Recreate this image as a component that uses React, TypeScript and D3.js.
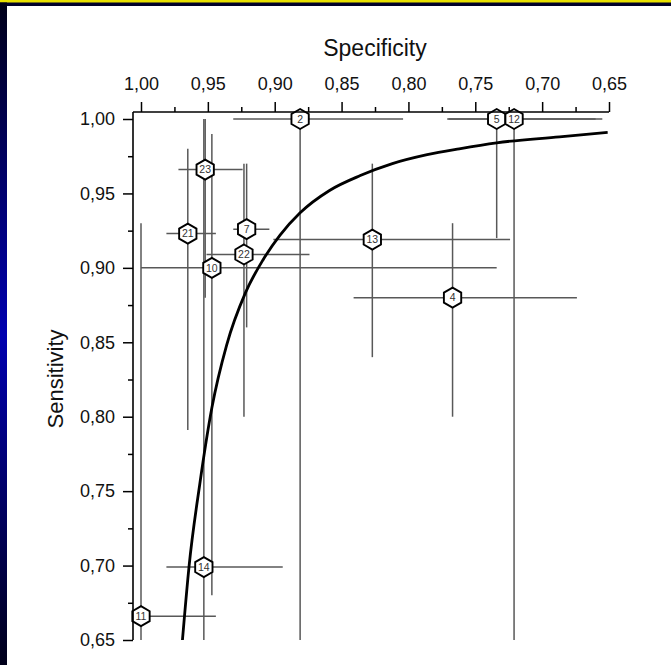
import React, { useRef, useEffect } from "react";
import * as d3 from "d3";

// study labels and point estimates
const studyIds = [2, 5, 12, 13, 4, 10, 23, 21, 7, 22, 14, 11];
const specificity = [0.881, 0.734, 0.721, 0.827, 0.767, 0.947, 0.952, 0.965, 0.921, 0.923, 0.953, 1.0];
const sensitivity = [1.0, 1.0, 1.0, 0.919, 0.88, 0.9, 0.966, 0.923, 0.926, 0.909, 0.699, 0.666];
// confidence intervals
const specLow = [0.804, 0.655, 0.66, 0.724, 0.674, 0.734, 0.924, 0.944, 0.904, 0.874, 0.894, 0.944];
const specHigh = [0.931, 0.771, 0.77, 0.901, 0.841, 1.0, 0.972, 0.981, 0.931, 0.951, 0.981, 1.0];
const sensLow = [0.4, 0.92, 0.4, 0.84, 0.8, 0.68, 0.88, 0.791, 0.86, 0.8, 0.45, 0.4];
const sensHigh = [1.0, 1.0, 1.0, 0.97, 0.93, 0.99, 1.0, 0.98, 0.97, 0.97, 1.0, 0.93];

// SROC curve
const curveSpec = [0.969, 0.964, 0.956, 0.947, 0.936, 0.922, 0.909, 0.896, 0.881, 0.859, 0.836, 0.812, 0.786, 0.762, 0.734, 0.687, 0.651];
const curveSens = [0.65, 0.7, 0.755, 0.806, 0.848, 0.883, 0.905, 0.922, 0.937, 0.952, 0.962, 0.97, 0.976, 0.98, 0.984, 0.988, 0.991];

const majorTicks = [1.0, 0.95, 0.9, 0.85, 0.8, 0.75, 0.7, 0.65];
const minorTicks = [0.975, 0.925, 0.875, 0.825, 0.775, 0.725, 0.675];

const W = 671;
const H = 665;
const font = "'Liberation Sans', Arial, Helvetica, sans-serif";

export default function App() {
  const ref = useRef<SVGGElement>(null);

  useEffect(() => {
    const g = d3.select(ref.current);
    g.selectAll("*").remove();

    const x = d3.scaleLinear().domain([1, 0.65]).range([141, 609]);
    const y = d3.scaleLinear().domain([1, 0.65]).range([119, 640]);
    const axisX = 133;
    const axisY = 112;
    const clampS = (v: number) => Math.max(0.65, Math.min(1, v));
    const fmt = (d: any) => d3.format(".2f")(d).replace(".", ",");

    // error bars
    const bars = g.append("g").attr("stroke", "#585858").attr("stroke-width", 1.5);
    studyIds.forEach((id, i) => {
      bars.append("line")
        .attr("x1", x(clampS(specHigh[i]))).attr("x2", x(clampS(specLow[i])))
        .attr("y1", y(sensitivity[i])).attr("y2", y(sensitivity[i]));
      bars.append("line")
        .attr("x1", x(specificity[i])).attr("x2", x(specificity[i]))
        .attr("y1", y(clampS(sensHigh[i]))).attr("y2", y(clampS(sensLow[i])));
    });

    // curve
    const pts = curveSpec.map((s, i) => [s, curveSens[i]] as [number, number]);
    g.append("path")
      .attr("d", d3.line<[number, number]>().x(d => x(d[0])).y(d => y(d[1])).curve(d3.curveMonotoneX)(pts))
      .attr("fill", "none")
      .attr("stroke", "#000")
      .attr("stroke-width", 2.8);

    // hexagon markers
    const r = 10;
    const hex = d3.range(6).map(k => {
      const a = Math.PI / 3 * k - Math.PI / 2;
      return [r * Math.cos(a), r * Math.sin(a)] as [number, number];
    });
    const hexPath = d3.line().curve(d3.curveLinearClosed)(hex);
    const marks = g.append("g");
    studyIds.forEach((id, i) => {
      const m = marks.append("g").attr("transform", `translate(${x(specificity[i])},${y(sensitivity[i])})`);
      m.append("path").attr("d", hexPath).attr("fill", "#fff").attr("stroke", "#000").attr("stroke-width", 1.9);
      m.append("text").text(id)
        .attr("text-anchor", "middle").attr("dy", "0.36em")
        .attr("font-family", font).attr("font-size", 10.5).attr("fill", "#333");
    });

    // x axis (top)
    const xa = g.append("g").attr("transform", `translate(0,${axisY})`);
    xa.call(d3.axisTop(x).tickValues(majorTicks).tickSize(10).tickPadding(12).tickFormat(fmt));
    xa.append("g").call(d3.axisTop(x).tickValues(minorTicks).tickSize(5).tickFormat(() => ""));
    const ya = g.append("g").attr("transform", `translate(${axisX},0)`);
    ya.call(d3.axisLeft(y).tickValues(majorTicks).tickSize(10).tickPadding(8).tickFormat(fmt));
    ya.append("g").call(d3.axisLeft(y).tickValues(minorTicks).tickSize(5).tickFormat(() => ""));

    g.selectAll(".domain").remove();
    g.selectAll(".tick line").attr("stroke", "#000").attr("stroke-width", 1.5);
    g.selectAll(".tick text").attr("font-family", font).attr("font-size", 18).attr("fill", "#111");

    g.append("line").attr("x1", axisX).attr("x2", 609).attr("y1", axisY).attr("y2", axisY)
      .attr("stroke", "#000").attr("stroke-width", 1.6);
    g.append("line").attr("x1", axisX).attr("x2", axisX).attr("y1", axisY).attr("y2", 640)
      .attr("stroke", "#000").attr("stroke-width", 1.6);

    g.append("text").text("Specificity")
      .attr("x", 375).attr("y", 56).attr("text-anchor", "middle")
      .attr("font-family", font).attr("font-size", 23).attr("fill", "#111");
    g.append("text").text("Sensitivity")
      .attr("transform", "translate(63,379) rotate(-90)").attr("text-anchor", "middle")
      .attr("font-family", font).attr("font-size", 22).attr("fill", "#111");
  }, []);

  return (
    <svg width={W} height={H} style={{ position: "absolute", left: 0, top: 0 }}>
      <defs>
        <linearGradient id="side" x1="0" y1="0" x2="0" y2="1">
          <stop offset="0%" stopColor="#000018" />
          <stop offset="50%" stopColor="#0000b0" />
          <stop offset="100%" stopColor="#000018" />
        </linearGradient>
      </defs>
      <rect width={W} height={H} fill="#fff" />
      <rect x={0} y={0} width={W} height={6} fill="#00002a" />
      <rect x={0} y={0} width={W} height={2.5} fill="#e8e000" />
      <rect x={0} y={2.5} width={7} height={H} fill="url(#side)" />
      <g ref={ref} />
    </svg>
  );
}
